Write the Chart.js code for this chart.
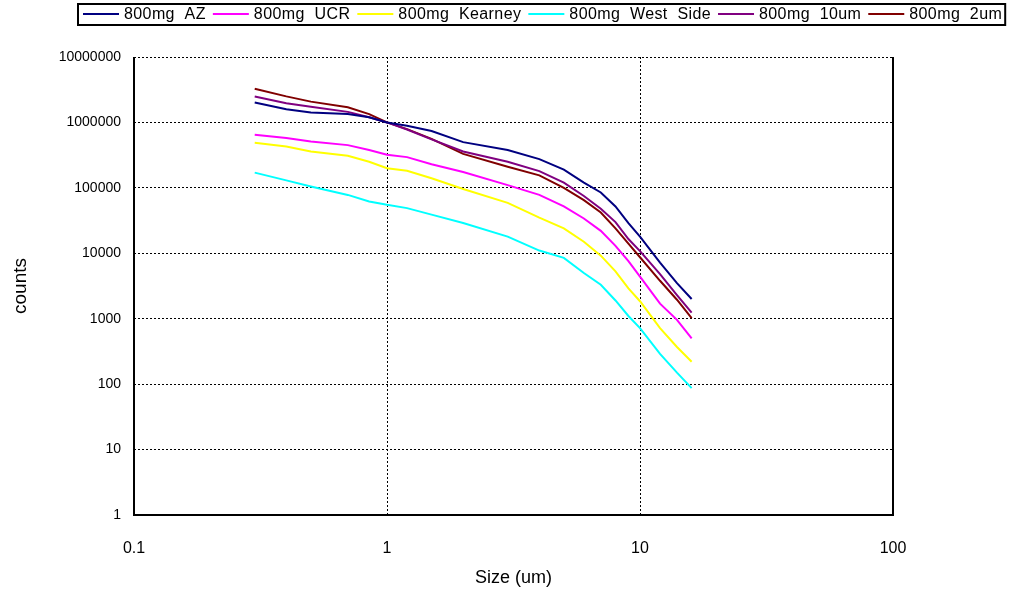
<!DOCTYPE html>
<html>
<head>
<meta charset="utf-8">
<script src="https://cdn.jsdelivr.net/npm/chart.js@4"></script>
<style>
  html, body { margin: 0; padding: 0; background: #fff; }
  #wrap { width: 1014px; height: 597px; position: relative; }
</style>
</head>
<body>
<div id="wrap"><canvas id="chart"></canvas></div>
<script>
// Particle size bins (um) and counts for each sample
const sizes = [0.3, 0.4, 0.5, 0.7, 0.85, 1, 1.2, 1.5, 2, 3, 4, 5, 6, 7, 8, 9, 10, 12, 14, 16];

const countsAZ = [2.02e6, 1.59e6, 1.42e6, 1.34e6, 1.2e6, 1.0e6, 8.9e5, 7.4e5, 5.0e5, 3.8e5, 2.75e5, 1.9e5, 1.2e5, 8.5e4, 5.2e4, 2.9e4, 1.8e4, 7.2e3, 3.5e3, 2.0e3];
const countsUCR = [6.5e5, 5.8e5, 5.1e5, 4.5e5, 3.8e5, 3.2e5, 2.95e5, 2.3e5, 1.75e5, 1.1e5, 7.8e4, 5.2e4, 3.4e4, 2.2e4, 1.3e4, 7.6e3, 4.4e3, 1.7e3, 960, 500];
const countsKearney = [4.9e5, 4.3e5, 3.6e5, 3.1e5, 2.5e5, 2.0e5, 1.82e5, 1.4e5, 9.6e4, 5.9e4, 3.5e4, 2.4e4, 1.5e4, 9.2e3, 5.3e3, 2.9e3, 1.85e3, 720, 370, 220];
const countsWestSide = [1.71e5, 1.3e5, 1.05e5, 7.8e4, 6.2e4, 5.5e4, 4.9e4, 3.9e4, 2.9e4, 1.8e4, 1.1e4, 8.5e3, 5.0e3, 3.3e3, 1.9e3, 1.1e3, 720, 290, 150, 87];
const counts10um = [2.49e6, 1.97e6, 1.74e6, 1.45e6, 1.2e6, 1.0e6, 7.8e5, 5.5e5, 3.6e5, 2.5e5, 1.8e5, 1.2e5, 7.5e4, 4.8e4, 3.0e4, 1.65e4, 1.08e4, 4.8e3, 2.3e3, 1.24e3];
const counts2um = [3.27e6, 2.5e6, 2.08e6, 1.7e6, 1.34e6, 1.0e6, 7.9e5, 5.6e5, 3.3e5, 2.1e5, 1.55e5, 1.0e5, 6.5e4, 4.2e4, 2.4e4, 1.4e4, 8.7e3, 3.8e3, 1.95e3, 1.02e3];

const seriesLabels = ['800mg  AZ', '800mg  UCR', '800mg  Kearney', '800mg  West  Side', '800mg  10um', '800mg  2um'];
const seriesColors = ['#000080', '#FF00FF', '#FFFF00', '#00FFFF', '#800080', '#800000'];
const seriesValues = [countsAZ, countsUCR, countsKearney, countsWestSide, counts10um, counts2um];

const xTickValues = [0.1, 1, 10, 100];
const xTickLabels = ['0.1', '1', '10', '100'];
const yTickValues = [1, 10, 100, 1000, 10000, 100000, 1000000, 10000000];
const yTickLabels = ['1', '10', '100', '1000', '10000', '100000', '1000000', '10000000'];

const FONT = '"Liberation Sans", Arial, sans-serif';

// Boxed legend row across the top of the page
const boxedLegend = {
  id: 'boxedLegend',
  afterDraw(chart) {
    const ctx = chart.ctx;
    ctx.save();
    ctx.font = '16px ' + FONT;
    ctx.letterSpacing = '0.4px';
    ctx.textBaseline = 'middle';
    ctx.fillStyle = '#000';
    const startX = 83, cy = 14, lineLen = 36, gapText = 5, gapItem = 7;
    let x = startX;
    chart.data.datasets.forEach((ds, i) => {
      ctx.strokeStyle = ds.borderColor;
      ctx.lineWidth = 2;
      ctx.beginPath();
      ctx.moveTo(x, cy);
      ctx.lineTo(x + lineLen, cy);
      ctx.stroke();
      x += lineLen + gapText;
      ctx.fillText(ds.label, x, cy + 1);
      x += ctx.measureText(ds.label).width;
      if (i < chart.data.datasets.length - 1) x += gapItem;
    });
    ctx.strokeStyle = '#000';
    ctx.lineWidth = 2;
    ctx.strokeRect(startX - 5, 4, x - startX + 8, 21);
    ctx.restore();
  }
};

// Solid frame on the left, right and bottom of the plot area
const plotFrame = {
  id: 'plotFrame',
  afterDatasetsDraw(chart) {
    const a = chart.chartArea, ctx = chart.ctx;
    ctx.save();
    ctx.strokeStyle = '#000';
    ctx.lineWidth = 2;
    ctx.beginPath();
    ctx.moveTo(a.left, a.top);
    ctx.lineTo(a.left, a.bottom);
    ctx.lineTo(a.right, a.bottom);
    ctx.lineTo(a.right, a.top);
    ctx.stroke();
    ctx.restore();
  }
};

new Chart(document.getElementById('chart'), {
  type: 'line',
  data: {
    datasets: seriesValues.map((vals, i) => ({
      label: seriesLabels[i],
      data: sizes.map((s, j) => ({ x: s, y: vals[j] })),
      borderColor: seriesColors[i],
      backgroundColor: seriesColors[i],
      borderWidth: 2,
      pointRadius: 0,
      tension: 0,
      fill: false
    }))
  },
  options: {
    responsive: true,
    maintainAspectRatio: false,
    animation: false,
    layout: { padding: { left: 0, right: 121, top: 57, bottom: 0 } },
    plugins: {
      legend: { display: false },
      tooltip: { enabled: false }
    },
    scales: {
      x: {
        type: 'logarithmic',
        min: 0.1,
        max: 100,
        afterBuildTicks: s => { s.ticks = xTickValues.map(v => ({ value: v })); },
        afterFit: s => { s.height = 82; },
        grid: { color: '#000', lineWidth: 1, drawTicks: false },
        border: { display: false, dash: [2, 2] },
        ticks: {
          color: '#000',
          font: { family: FONT, size: 16 },
          padding: 24,
          maxRotation: 0,
          autoSkip: false,
          callback: (v, i) => xTickLabels[i]
        },
        title: {
          display: true,
          text: 'Size (um)',
          color: '#000',
          font: { family: FONT, size: 18 },
          padding: { top: 0, bottom: 8 }
        }
      },
      y: {
        type: 'logarithmic',
        min: 1,
        max: 10000000,
        afterBuildTicks: s => { s.ticks = yTickValues.map(v => ({ value: v })); },
        afterFit: s => { s.width = 134; },
        grid: { color: '#000', lineWidth: 1, drawTicks: false },
        border: { display: false, dash: [2, 2] },
        ticks: {
          color: '#000',
          font: { family: FONT, size: 14 },
          padding: 13,
          autoSkip: false,
          callback: (v, i) => yTickLabels[i]
        },
        title: {
          display: true,
          text: 'counts',
          color: '#000',
          font: { family: FONT, size: 19 },
          padding: { top: 9, bottom: 0 }
        }
      }
    }
  },
  plugins: [boxedLegend, plotFrame]
});
</script>
</body>
</html>
